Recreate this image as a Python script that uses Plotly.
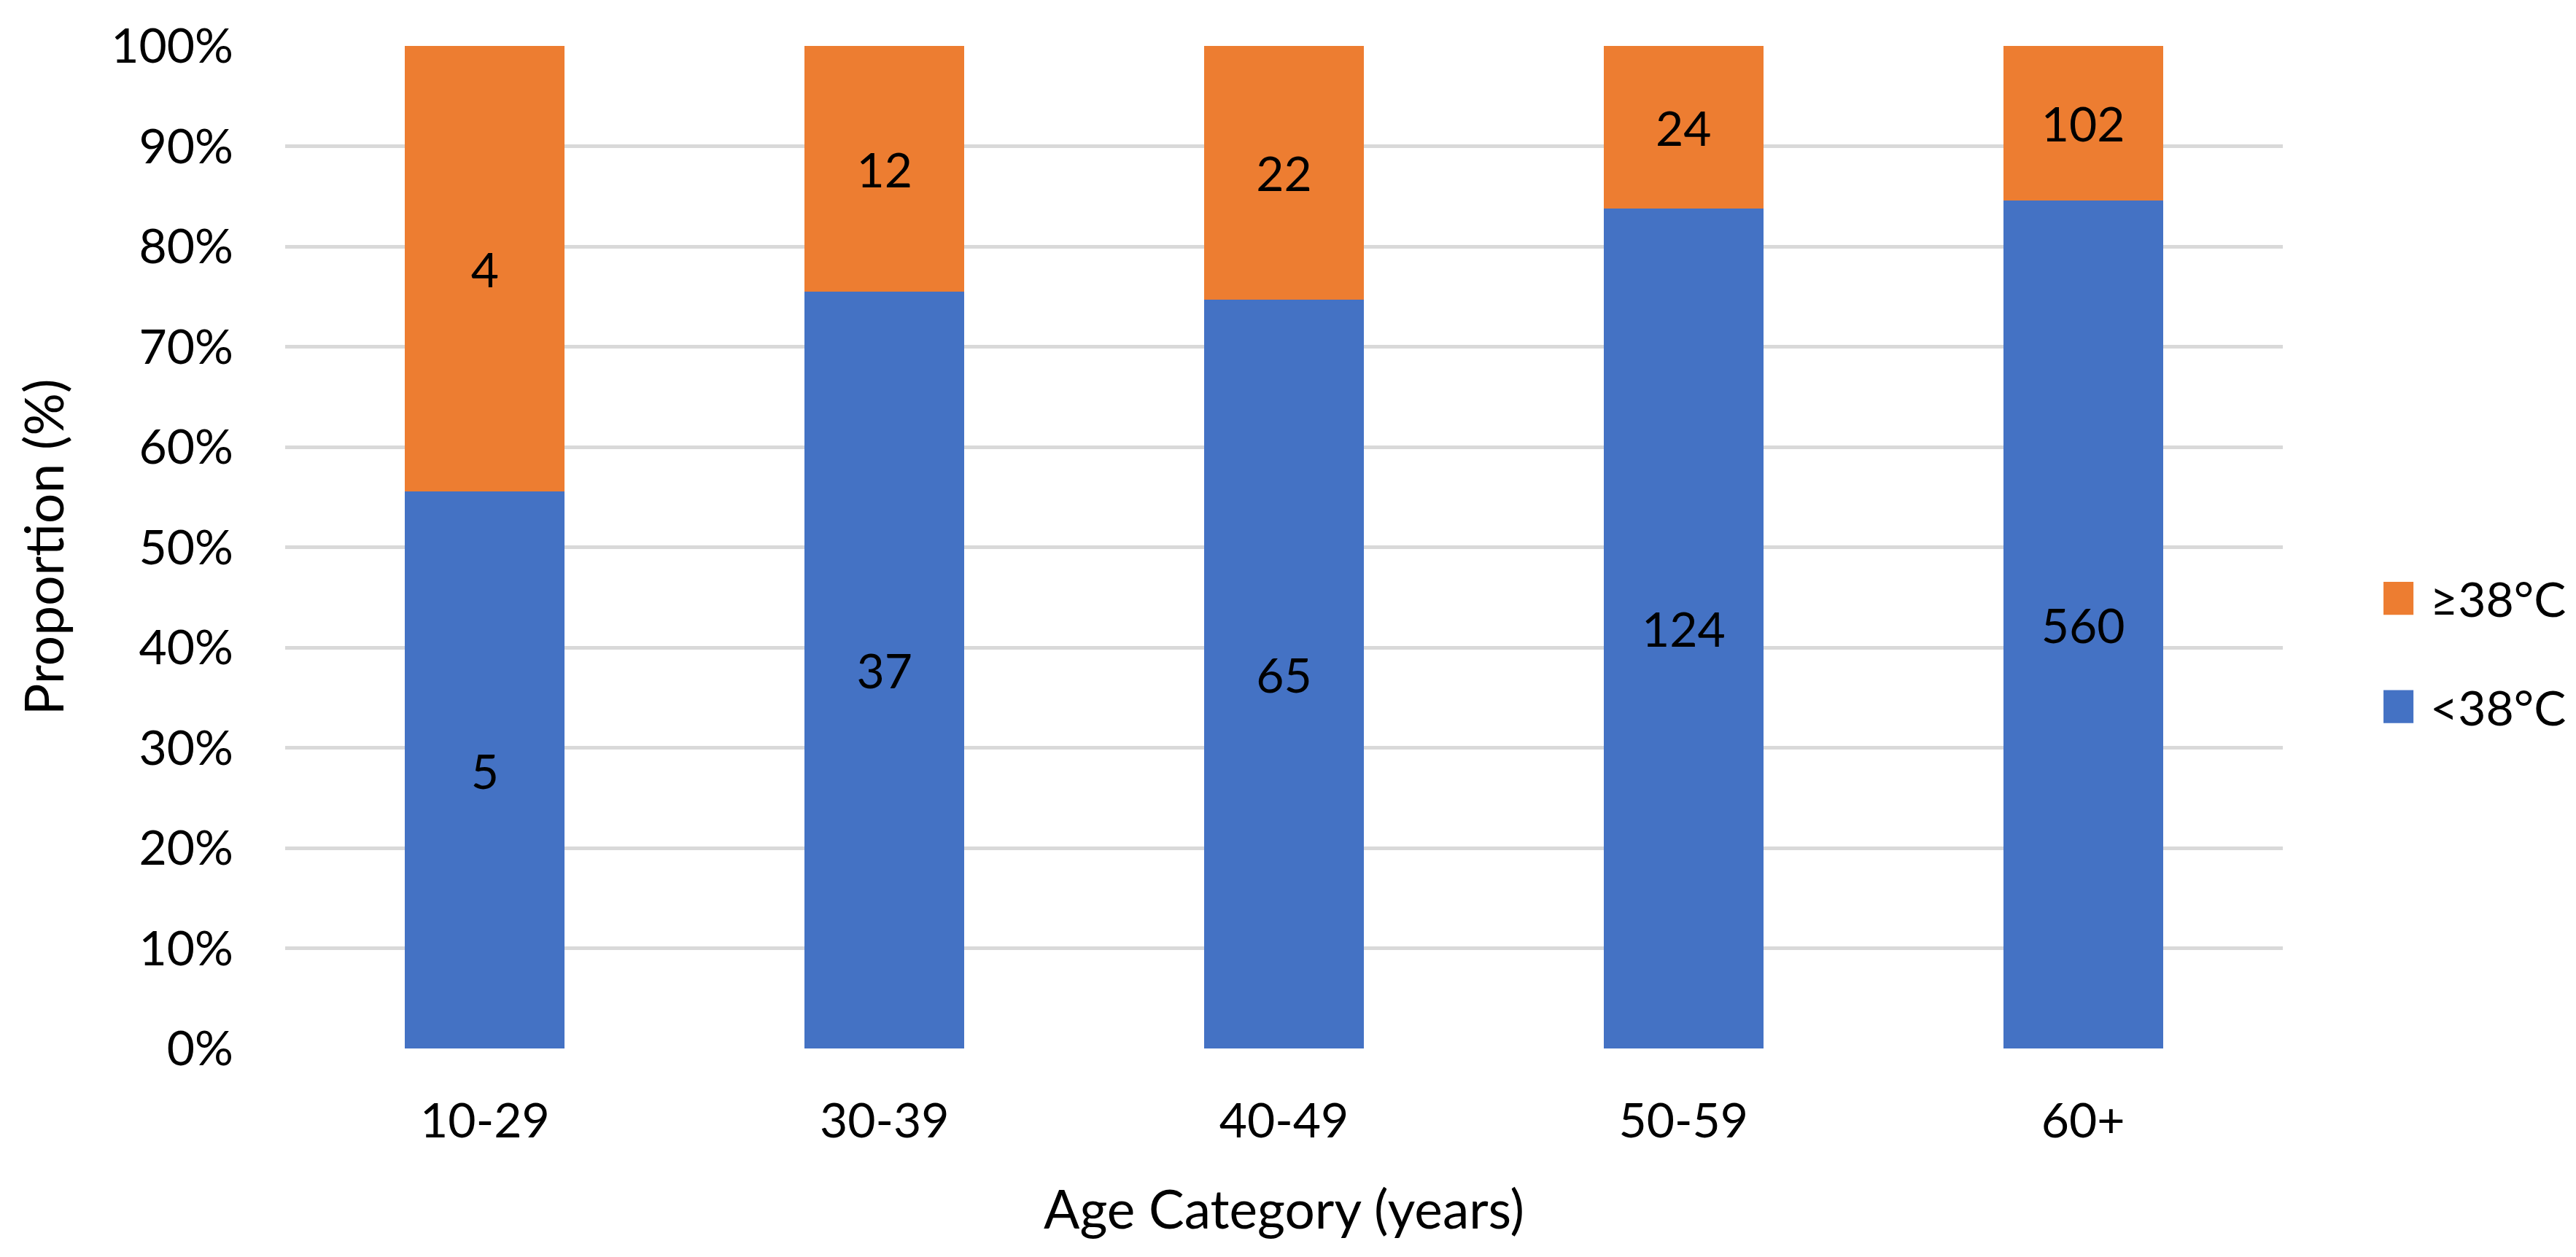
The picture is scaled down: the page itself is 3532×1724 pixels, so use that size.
import plotly.graph_objects as go

categories = ["10-29", "30-39", "40-49", "50-59", "60+"]
below_38 = [5, 37, 65, 124, 560]
above_38 = [4, 12, 22, 24, 102]
series_names = ["<38°C", "≥38°C"]
y_ticks = list(range(0, 101, 10))

BLUE = "#4472C4"
ORANGE = "#ED7D31"
FONT = "Lato"
TICK_SIZE = 66
TITLE_SIZE = 73

fig = go.Figure()
fig.add_trace(go.Bar(
    x=categories, y=below_38, name=series_names[0],
    marker=dict(color=BLUE, line=dict(width=0)),
    text=below_38, textposition="inside", insidetextanchor="middle",
    textangle=0, textfont=dict(color="black", size=TICK_SIZE, family=FONT),
    constraintext="none", showlegend=False,
))
fig.add_trace(go.Bar(
    x=categories, y=above_38, name=series_names[1],
    marker=dict(color=ORANGE, line=dict(width=0)),
    text=above_38, textposition="inside", insidetextanchor="middle",
    textangle=0, textfont=dict(color="black", size=TICK_SIZE, family=FONT),
    constraintext="none", showlegend=False,
))

# Manual legend (Excel-sized swatches)
legend_items = [(series_names[1], ORANGE, 0.449), (series_names[0], BLUE, 0.341)]
for name, color, yc in legend_items:
    fig.add_shape(type="rect", xref="paper", yref="paper",
                  x0=1.0504, x1=1.0654, y0=yc - 0.0164, y1=yc + 0.0164,
                  fillcolor=color, line=dict(width=0))
    fig.add_annotation(xref="paper", yref="paper", x=1.0730, y=yc,
                       text=name, showarrow=False, xanchor="left", yanchor="middle",
                       font=dict(family=FONT, size=TICK_SIZE, color="black"))

fig.update_layout(
    width=3532, height=1724,
    margin=dict(l=383, r=410, t=55, b=294, autoexpand=False),
    barmode="stack", barnorm="percent", bargap=0.6,
    paper_bgcolor="white", plot_bgcolor="white",
    font=dict(family=FONT, size=TICK_SIZE, color="black"),
    showlegend=False,
    uniformtext=dict(mode=False),
)
fig.update_xaxes(
    title=dict(text="Age Category (years)", font=dict(size=TITLE_SIZE, family=FONT), standoff=60),
    showgrid=False, zeroline=False, showline=False, ticks="",
    tickfont=dict(size=TICK_SIZE, family=FONT), ticklabelstandoff=55,
    range=[-0.5, 4.5],
)
fig.update_yaxes(
    title=dict(text="Proportion (%)", font=dict(size=TITLE_SIZE, family=FONT), standoff=40),
    range=[0, 100], tickvals=y_ticks, ticktext=[f"{v}%" for v in y_ticks],
    showgrid=True, gridcolor="#D9D9D9", gridwidth=5,
    zeroline=False, showline=False, ticks="",
    tickfont=dict(size=TICK_SIZE, family=FONT), ticklabelstandoff=70,
)

fig.write_html("out.html")
